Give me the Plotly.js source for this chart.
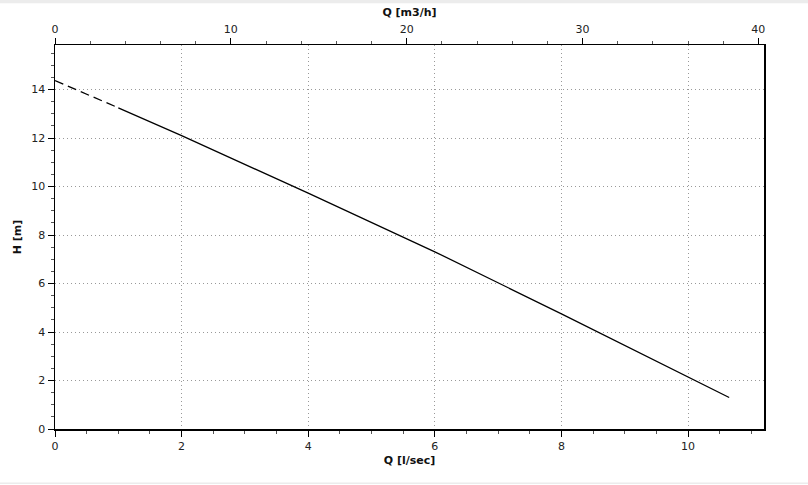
<!DOCTYPE html>
<html>
<head>
<meta charset="utf-8">
<script src="https://cdn.plot.ly/plotly-3.0.1.min.js"></script>
<style>html,body{margin:0;padding:0;background:#fff;}#chart{width:808px;height:485px;}</style>
</head>
<body>
<div id="chart"></div>
<script>
// Data (Q in l/sec, H in m)
const qDashed = [0, 1.0];
const hDashed = [14.37, 13.25];
const qSolid = [1.0, 2, 4, 6, 8, 10, 10.65];
const hSolid = [13.25, 12.1, 9.73, 7.31, 4.75, 2.15, 1.30];
const xTicks = [0, 2, 4, 6, 8, 10];
const x2Ticks = [0, 10, 20, 30, 40];
const yTicks = [0, 2, 4, 6, 8, 10, 12, 14];

const font = {family: 'DejaVu Sans, Verdana, sans-serif', size: 11, color: '#222'};
const titleFont = {family: 'DejaVu Sans, Verdana, sans-serif', size: 11, color: '#111', weight: 'bold'};

const traces = [
  {x: qDashed, y: hDashed, mode: 'lines', line: {color: '#000', width: 1.3, dash: '9px,5px'}, showlegend: false, hoverinfo: 'skip'},
  {x: qSolid, y: hSolid, mode: 'lines', line: {color: '#000', width: 1.3}, showlegend: false},
  {x: [0, 40], y: [null, null], xaxis: 'x2', yaxis: 'y', mode: 'lines', showlegend: false, hoverinfo: 'skip'}
];

const layout = {
  width: 808, height: 485,
  margin: {l: 55, r: 44, t: 45, b: 56},
  paper_bgcolor: '#fff', plot_bgcolor: '#fff',
  font: font,
  xaxis: {
    range: [0, 11.2], tickvals: xTicks, ticktext: xTicks.map(String),
    showline: true, linecolor: '#000', linewidth: 1.5, mirror: false,
    ticks: 'outside', ticklen: 6, tickcolor: '#000', tickwidth: 1,
    showgrid: true, gridcolor: '#999', griddash: '1px,3px', gridwidth: 1,
    zeroline: false, tickfont: font,
    minor: {dtick: 0.5, tick0: 0, ticks: 'outside', ticklen: 3, tickcolor: '#555', showgrid: false},
    title: {text: 'Q [l/sec]', font: titleFont, standoff: 4}
  },
  xaxis2: {
    overlaying: 'x', side: 'top', range: [0, 40.32], tickvals: x2Ticks, ticktext: x2Ticks.map(String),
    showline: true, linecolor: '#000', linewidth: 1.5,
    ticks: 'outside', ticklen: 6, tickcolor: '#000', tickwidth: 1,
    showgrid: false, zeroline: false, tickfont: font,
    minor: {dtick: 2, tick0: 0, ticks: 'outside', ticklen: 3, tickcolor: '#555', showgrid: false},
    title: {text: 'Q [m3/h]', font: titleFont, standoff: 4}
  },
  yaxis: {
    range: [0, 15.84], tickvals: yTicks, ticktext: yTicks.map(String),
    showline: true, linecolor: '#000', linewidth: 1.5, mirror: true,
    ticks: 'outside', ticklen: 6, tickcolor: '#000', tickwidth: 1,
    showgrid: true, gridcolor: '#999', griddash: '1px,3px', gridwidth: 1,
    zeroline: false, tickfont: font,
    minor: {dtick: 0.5, tick0: 0, ticks: 'outside', ticklen: 3, tickcolor: '#555', showgrid: false},
    title: {text: 'H [m]', font: titleFont, standoff: 7}
  },
  shapes: [
    {type: 'rect', xref: 'paper', yref: 'paper', x0: -0.1, x1: 1.1, y0: 1.109, y1: 1.12, fillcolor: '#ececec', line: {width: 0}, layer: 'below'},
    {type: 'line', xref: 'paper', yref: 'paper', x0: -0.1, x1: 1.1, y0: -0.141, y1: -0.141, line: {color: '#e2e2e2', width: 1}}
  ]
};

Plotly.newPlot('chart', traces, layout, {displayModeBar: false, staticPlot: true});
</script>
</body>
</html>
